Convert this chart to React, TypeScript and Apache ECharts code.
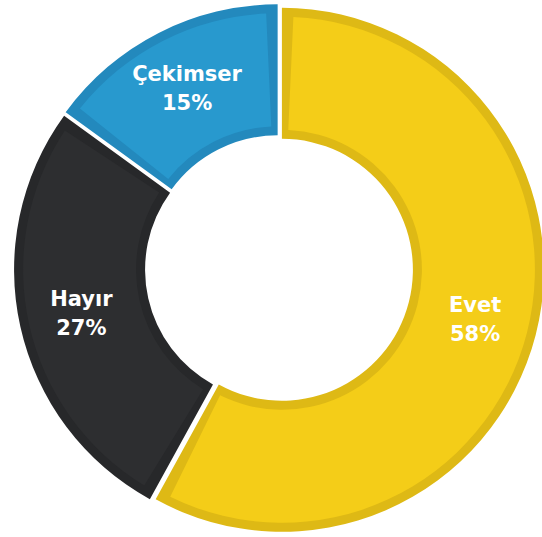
import React, { useEffect, useRef } from "react";
import * as echarts from "echarts";

const categories = ["Evet", "Hayır", "Çekimser"];
const values = [58, 27, 15];
const fillColors = ["#F4CD18", "#2D2E30", "#2899CE"];
const bandColors = ["#DEB915", "#27282A", "#2389BD"];

export default function App() {
  const ref = useRef<HTMLDivElement>(null);
  useEffect(() => {
    if (!ref.current) return;
    const chart = echarts.init(ref.current, undefined, { renderer: "svg" });
    const center = [279, 269];
    const common = {
      type: "pie" as const,
      center,
      startAngle: 90,
      clockwise: true,
      selectedMode: "multiple" as const,
      selectedOffset: 3,
      silent: true,
      avoidLabelOverlap: false,
      labelLine: { show: false },
      emphasis: { disabled: true },
    };
    chart.setOption({
      animation: false,
      backgroundColor: "#ffffff",
      series: [
        {
          ...common,
          radius: [131, 262],
          label: { show: false },
          select: { itemStyle: { borderWidth: 0 }, label: { show: false } },
          data: categories.map((name, i) => ({
            name,
            value: values[i],
            selected: true,
            itemStyle: { color: bandColors[i], borderWidth: 0 },
          })),
        },
        {
          ...common,
          radius: [140, 253],
          padAngle: 5.2,
          label: {
            show: true,
            position: "inside",
            formatter: "{b}\n{d}%",
            color: "#ffffff",
            fontFamily: "DejaVu Sans",
            fontWeight: "bold",
            fontSize: 21,
            lineHeight: 29,
            textBorderWidth: 0,
          },
          select: { itemStyle: { borderWidth: 0 } },
          data: categories.map((name, i) => ({
            name,
            value: values[i],
            selected: true,
            itemStyle: { color: fillColors[i], borderWidth: 0 },
          })),
        },
      ],
    });
    return () => chart.dispose();
  }, []);
  return (
    <div
      ref={ref}
      style={{ position: "absolute", left: 0, top: 0, width: 542, height: 537 }}
    />
  );
}
